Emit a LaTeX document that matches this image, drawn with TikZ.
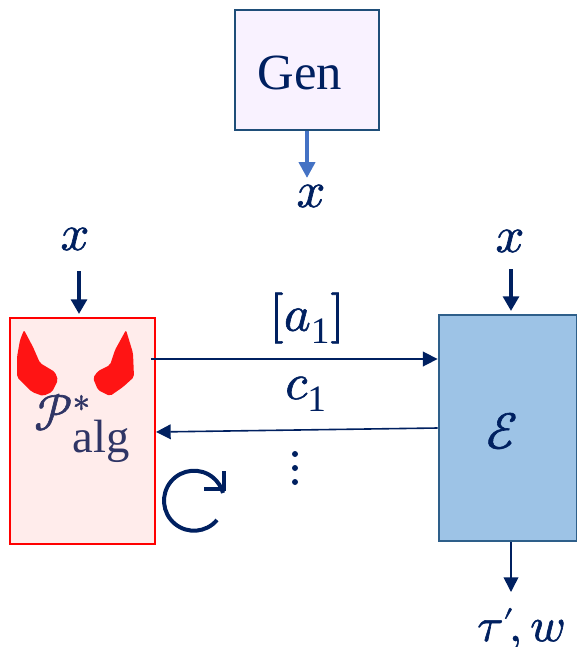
\documentclass[tikz,border=0pt]{standalone}
\usepackage{amsmath}
\usepackage{fontspec}
\usepackage{unicode-math}
\setmainfont{Liberation Serif}
\setmathfont[FakeBold=1.2]{Latin Modern Math}
\setmathrm{Liberation Serif}
\usetikzlibrary{arrows.meta}
\newcommand{\subtxt}[2]{\mbox{\fontsize{#1}{#1}\selectfont #2}}
\definecolor{navy}{HTML}{002060}
\definecolor{genfill}{HTML}{F9F2FF}
\definecolor{genline}{HTML}{1F4E79}
\definecolor{bluefill}{HTML}{9DC3E6}
\definecolor{blueline}{HTML}{2E5F8A}
\definecolor{redfill}{HTML}{FFECEB}
\definecolor{hornred}{HTML}{FF1414}
\definecolor{midblue}{HTML}{4472C4}
\definecolor{txt}{HTML}{2F3565}
\tikzset{
  px/.style={x=0.75pt,y=-0.75pt},
  arr/.style={draw=navy,line width=1.2pt,-{Triangle[length=11pt,width=11pt]}},
  thickarr/.style={draw=navy,line width=2.4pt,-{Triangle[length=11pt,width=12pt]},shorten >=2pt},
  lab/.style={text=navy,inner sep=0pt,font=\fontsize{38}{42}\selectfont},
  horn/.style={fill=hornred,draw=none,rounded corners=1.5pt}
}
\begin{document}
\begin{tikzpicture}[px]
\useasboundingbox (0,0) rectangle (577,647);
\node[draw=genline,line width=1.6pt,fill=genfill,minimum width=108pt,minimum height=90pt,inner sep=0pt] (gen) at (307,70) {};
\node[text=navy,inner sep=0pt,font=\fontsize{38}{40}\selectfont] (gent) at (300,73) {Gen};
\node[lab] (xa) at (311,196) {$x$};
\coordinate (xatop) at (307,178);
\draw[draw=midblue,line width=3pt,-{Triangle[length=12pt,width=12pt]}] (gen.south -| xatop) -- (xatop);
\node[draw=red,line width=1.6pt,fill=redfill,minimum width=108.5pt,minimum height=170pt,inner sep=0pt] (p) at (82.5,431) {};
\node[draw=blueline,line width=1.6pt,fill=bluefill,minimum width=104pt,minimum height=170pt,inner sep=0pt] (e) at (508,428) {};
\node[lab] (xl) at (75,239) {$x$};
\node[lab] (xr) at (510,241) {$x$};
\coordinate (xlb) at (79,271);
\coordinate (xrb) at (511,269);
\draw[thickarr] (xlb) -- (xlb |- p.north);
\draw[thickarr] (xrb) -- (xrb |- e.north);
\node[inner sep=0pt,text=txt,font=\fontsize{38}{42}\selectfont] (pl) at (82,428) {$\mathcal{P}^{*}_{\subtxt{35}{alg}}$};
\node[lab] (el) at (502,431) {$\mathcal{E}$};
\coordinate (a1s) at (151,359);
\draw[arr] (a1s) -- (a1s -| e.west);
\coordinate (c1s) at (e.west |- 0,428);
\coordinate (c1e) at (156,432);
\draw[arr] (c1s) -- (c1e);
\node[lab] (a1) at (307,318) {$[a_{\subtxt{28}{1}}]$};
\node[lab] (c1) at (306,394) {$c_{\subtxt{28}{1}}$};
\foreach \y in {454,468,482} \fill[navy] (295,\y) circle (3);
\coordinate (ou) at (511,592);
\node[lab,font=\fontsize{36}{40}\selectfont,anchor=base] (tw) at (521,641) {$\tau\raisebox{-0.2em}{$'$}\mskip-2mu,w$};
\draw[arr] (ou |- e.south) -- (ou);
\fill[horn] (24,330) -- (33,347) -- (40,363) -- (55,372) -- (58,380) -- (52,392) -- (43,396) -- (32,392) -- (17,377) -- (17,357) -- (20,340) -- cycle;
\fill[horn] (126,330) -- (133,353) -- (134,377) -- (123,387) -- (110,396) -- (98,390) -- (93,378) -- (98,371) -- (110,365) -- (115,350) -- cycle;
\draw[draw=navy,line width=3pt] (217,520) arc[start angle=40,end angle=345,radius=30];
\draw[draw=navy,line width=3pt] (204,489) -- (224,489) -- (224,471);
\end{tikzpicture}
\end{document}
